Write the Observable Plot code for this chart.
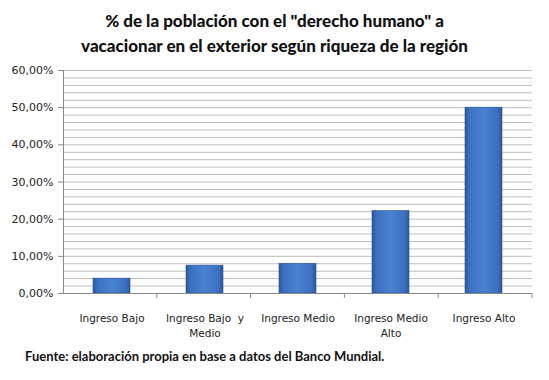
<!DOCTYPE html>
<html><head><meta charset="utf-8">
<script src="https://cdn.jsdelivr.net/npm/d3@7"></script>
<script src="https://cdn.jsdelivr.net/npm/@observablehq/plot@0.6"></script>
<style>
body{margin:0;background:#fff;width:549px;}
#title{font-family:Lato,"Open Sans",sans-serif;font-weight:900;font-size:17px;line-height:25px;text-align:center;padding-top:8px;height:50px;color:#111;}
#caption{font-family:Lato,"Open Sans",sans-serif;font-weight:bold;font-size:13px;line-height:20px;padding-top:4px;padding-left:25px;color:#111;}
</style></head><body>
<div id="title">% de la población con el "derecho humano" a<br>vacacionar en el exterior según riqueza de la región</div>
<div id="chart"></div>
<div id="caption">Fuente: elaboración propia en base a datos del Banco Mundial.</div>
<script>
const categories = ["Ingreso Bajo", "Ingreso Bajo y Medio", "Ingreso Medio", "Ingreso Medio Alto", "Ingreso Alto"];
const tickLabels = ["Ingreso Bajo", "Ingreso Bajo  y\nMedio", "Ingreso Medio", "Ingreso Medio\nAlto", "Ingreso Alto"];
const values = [4.0, 7.5, 8.0, 22.2, 50.0];
const majorTicks = [0, 10, 20, 30, 40, 50, 60];
const gridTicks = [0, 2, 4, 6, 8, 10, 12, 14, 16, 18, 20, 22, 24, 26, 28, 30, 32, 34, 36, 38, 40, 42, 44, 46, 48, 50, 52, 54, 56, 58, 60];

const data = categories.map((c, i) => ({cat: c, value: values[i]}));
const labelOf = new Map(categories.map((c, i) => [c, tickLabels[i]]));

const boundaryTicks = (index, scales, values, dimensions) => {
  const g = d3.create("svg:g");
  const n = categories.length;
  const w = dimensions.width - dimensions.marginLeft - dimensions.marginRight;
  const y0 = scales.y(0);
  for (let i = 1; i <= n; i++) {
    const x = dimensions.marginLeft + i * w / n;
    g.append("line").attr("x1", x).attr("x2", x).attr("y1", y0).attr("y2", y0 + 5)
      .attr("stroke", "#888").attr("stroke-width", 1);
  }
  return g.node();
};

const chart = Plot.plot({
  width: 549,
  height: 284,
  marginTop: 12,
  marginBottom: 49,
  marginLeft: 63,
  marginRight: 17,
  x: {domain: categories, paddingInner: 0.6, paddingOuter: 0.3, label: null},
  y: {domain: [0, 60], label: null},
  marks: [
    Plot.ruleY(gridTicks, {stroke: "#bdbdbd", strokeWidth: 1}),
    Plot.barY(data, {x: "cat", y: "value", fill: "url(#barGrad)", stroke: "#2b5596", strokeWidth: 0.6}),
    Plot.frame({anchor: "left", stroke: "#888"}),
    Plot.ruleY([0], {stroke: "#888"}),
    Plot.axisY({ticks: majorTicks, tickSize: 5, tickPadding: 5, tickFormat: d => d.toFixed(2).replace(".", ",") + "%",
      fontSize: 11, fontFamily: "DejaVu Sans", stroke: "#888", fill: "#222", label: null}),
    Plot.axisX({tickSize: 0, tickPadding: 17, tickFormat: d => labelOf.get(d), fontSize: 10.5, fontFamily: "DejaVu Sans",
      fill: "#222", label: null, lineHeight: 1.5}),
    boundaryTicks
  ]
});

const defs = d3.select(chart).insert("defs", ":first-child");
const grad = defs.append("linearGradient").attr("id", "barGrad").attr("x1", "0").attr("x2", "1").attr("y1", "0").attr("y2", "0");
[["0%", "#2c5799"], ["12%", "#3c70bf"], ["50%", "#4a82d3"], ["88%", "#3c70bf"], ["100%", "#2c5799"]]
  .forEach(([o, c]) => grad.append("stop").attr("offset", o).attr("stop-color", c));

document.getElementById("chart").appendChild(chart);
</script>
</body></html>
